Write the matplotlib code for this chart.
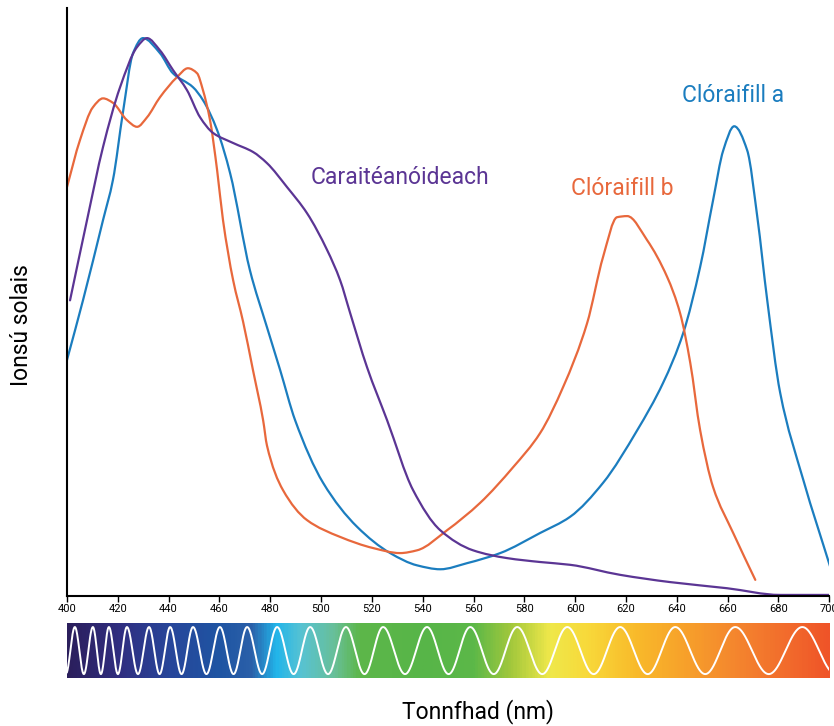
import numpy as np
import matplotlib.pyplot as plt
from matplotlib.colors import LinearSegmentedColormap
from matplotlib.path import Path
from matplotlib.patches import PathPatch

plt.rcParams['font.family'] = ['Roboto', 'DejaVu Sans']

# absorption curves (nm, relative absorbance)
chl_a_nm = [400, 406.3, 414.2, 418.1, 422.0, 426.0, 429.9, 436.6, 441.7, 449.6, 453.5,
            459.1, 464.2, 472.0, 478.7, 483.9, 489.8, 500.8, 514.2, 527.2,
            537.8, 546.9, 557.5, 570.5, 586.2, 598.0, 611.0, 624.4, 634.6, 642.5, 649.2,
            654.3, 658.3, 662.6, 667.7, 671.7, 675.6, 680.7, 689.8, 700.4]
chl_a_val = [0.423, 0.530, 0.674, 0.746, 0.866, 0.973, 1.000, 0.973, 0.937, 0.912, 0.889,
             0.835, 0.758, 0.584, 0.482, 0.405, 0.315, 0.203, 0.124, 0.077,
             0.055, 0.048, 0.059, 0.077, 0.113, 0.142, 0.203, 0.297, 0.382, 0.471, 0.590,
             0.710, 0.799, 0.842, 0.799, 0.679, 0.530, 0.364, 0.208, 0.052]

chl_b_nm = [400, 405.1, 410.2, 414.2, 418.1, 423.6, 427.6, 431.5, 436.6, 443.3, 447.6,
            451.2, 453.5, 456.3, 459.1, 461.4, 465.4, 469.3, 473.2, 477.2, 478.7, 485.0,
            494.5, 507.5, 520.5, 531.1, 537.8, 549.6, 562.6, 575.6, 586.2, 595.3, 604.7,
            611.0, 616.5, 620.5, 628.3, 636.2, 641.3, 645.3, 649.2, 654.3, 662.2, 670.9]
chl_b_val = [0.733, 0.817, 0.876, 0.892, 0.884, 0.853, 0.841, 0.858, 0.894, 0.930, 0.946,
             0.937, 0.907, 0.853, 0.763, 0.674, 0.566, 0.492, 0.405, 0.315, 0.270, 0.190,
             0.136, 0.106, 0.086, 0.077, 0.082, 0.118, 0.167, 0.231, 0.292, 0.375, 0.489,
             0.608, 0.679, 0.681, 0.638, 0.572, 0.507, 0.418, 0.297, 0.195, 0.113, 0.029]

carot_nm = [401.2, 407.9, 414.2, 420.9, 427.6, 431.5, 436.6, 441.7, 447.2, 452.4, 457.5,
            465.4, 473.2, 478.7, 486.6, 494.5, 502.4, 507.5, 511.4, 518.1, 526.0, 536.2,
            546.9, 559.8, 573.2, 586.2, 598.0, 617.7, 637.4, 659.8, 680.7, 700.4]
carot_val = [0.530, 0.674, 0.805, 0.912, 0.984, 1.000, 0.978, 0.943, 0.907, 0.858, 0.830,
             0.812, 0.796, 0.776, 0.733, 0.686, 0.620, 0.566, 0.508, 0.410, 0.315, 0.190,
             0.118, 0.082, 0.068, 0.061, 0.056, 0.038, 0.025, 0.014, 0.002, 0.002]

# spectrum strip: colour stops and crest positions of the white wave
spec_nm = [400, 420, 440, 460, 472, 482, 492, 505, 515, 540, 560, 575, 590, 605, 625, 645, 665, 685, 700]
spec_col = ['#2b1f5c', '#302e80', '#27469a', '#1f55a3', '#2b60a9', '#22b5ea', '#58c3d2', '#68bf98',
            '#5db74a', '#57b548', '#5cb848', '#a3c83c', '#efe84a', '#f8d93a', '#f9b92a', '#f79f2b',
            '#f4842e', '#f26a2c', '#ef5428']
crest_nm = [403.1, 410.2, 416.5, 423.6, 432.3, 440.6, 449.6, 460.2, 470.9, 482.7, 495.7,
            509.8, 524.4, 541.7, 558.7, 577.2, 596.9, 617.7, 639.4, 663.0, 689.4]

blue = '#1b7dbf'
orange = '#e8683c'
purple = '#5b3594'


def smooth_path(x, y):
    # monotone cubic (Fritsch-Carlson) slopes -> bezier segments drawn by matplotlib
    x = np.asarray(x, float)
    y = np.asarray(y, float)
    h = np.diff(x)
    d = np.diff(y) / h
    m = np.zeros_like(y)
    m[0], m[-1] = d[0], d[-1]
    for i in range(1, len(x) - 1):
        if d[i - 1] * d[i] > 0:
            w1 = 2 * h[i] + h[i - 1]
            w2 = h[i] + 2 * h[i - 1]
            m[i] = (w1 + w2) / (w1 / d[i - 1] + w2 / d[i])
    verts = [(x[0], y[0])]
    codes = [Path.MOVETO]
    for i in range(len(x) - 1):
        verts += [(x[i] + h[i] / 3, y[i] + m[i] * h[i] / 3),
                  (x[i + 1] - h[i] / 3, y[i + 1] - m[i + 1] * h[i] / 3),
                  (x[i + 1], y[i + 1])]
        codes += [Path.CURVE4] * 3
    return Path(verts, codes)


fig = plt.figure(figsize=(8.34, 7.26), dpi=100)
ax = fig.add_axes([0.0803, 0.179, 0.914, 0.810])

for xs_, ys_, c in [(chl_a_nm, chl_a_val, blue), (chl_b_nm, chl_b_val, orange),
                    (carot_nm, carot_val, purple)]:
    ax.add_patch(PathPatch(smooth_path(xs_, ys_), facecolor='none', edgecolor=c,
                           lw=1.6, capstyle='round', joinstyle='round'))

ax.text(662, 0.898, 'Clóraifill a', color=blue, fontsize=16.5, ha='center', va='center')
ax.text(618.5, 0.731, 'Clóraifill b', color=orange, fontsize=16.5, ha='center', va='center')
ax.text(531, 0.751, 'Caraitéanóideach', color=purple, fontsize=16.5, ha='center', va='center')

ax.set_xlim(400, 700)
ax.set_ylim(0, 1.054)
ax.set_xticks(np.arange(400, 701, 20))
ax.set_yticks([])
ax.tick_params(axis='x', labelsize=8, length=4, width=1, pad=2)
for s in ['top', 'right']:
    ax.spines[s].set_visible(False)
ax.spines['left'].set_linewidth(1.5)
ax.spines['bottom'].set_linewidth(1.5)

# spectrum strip with a white wave
sax = fig.add_axes([0.0803, 0.066, 0.914, 0.0758])
cmap = LinearSegmentedColormap.from_list(
    'spec', [((n - 400) / 300, c) for n, c in zip(spec_nm, spec_col)])
sax.imshow(np.linspace(0, 1, 600)[None, :], aspect='auto', cmap=cmap,
           extent=[400, 700, -1.17, 1.17])
xs = np.linspace(400, 700, 3000)
k = np.arange(len(crest_nm)) * 2 * np.pi
d0 = crest_nm[1] - crest_nm[0]
d1 = crest_nm[-1] - crest_nm[-2]
ext_nm = [crest_nm[0] - d0] + crest_nm + [crest_nm[-1] + d1]
ext_k = np.concatenate([[k[0] - 2 * np.pi], k, [k[-1] + 2 * np.pi]])
phase = np.interp(xs, ext_nm, ext_k)
sax.plot(xs, np.cos(phase), color='white', lw=1.4)
sax.set_xlim(400, 700)
sax.set_ylim(-1.17, 1.17)
sax.axis('off')

fig.text(22 / 834, 1 - 325 / 726, 'Ionsú solais', rotation=90, fontsize=16.5,
         ha='center', va='center')
fig.text(478 / 834, 1 - 712 / 726, 'Tonnfhad (nm)', fontsize=16.5, ha='center', va='center')

fig.savefig('out.png', dpi=100)
